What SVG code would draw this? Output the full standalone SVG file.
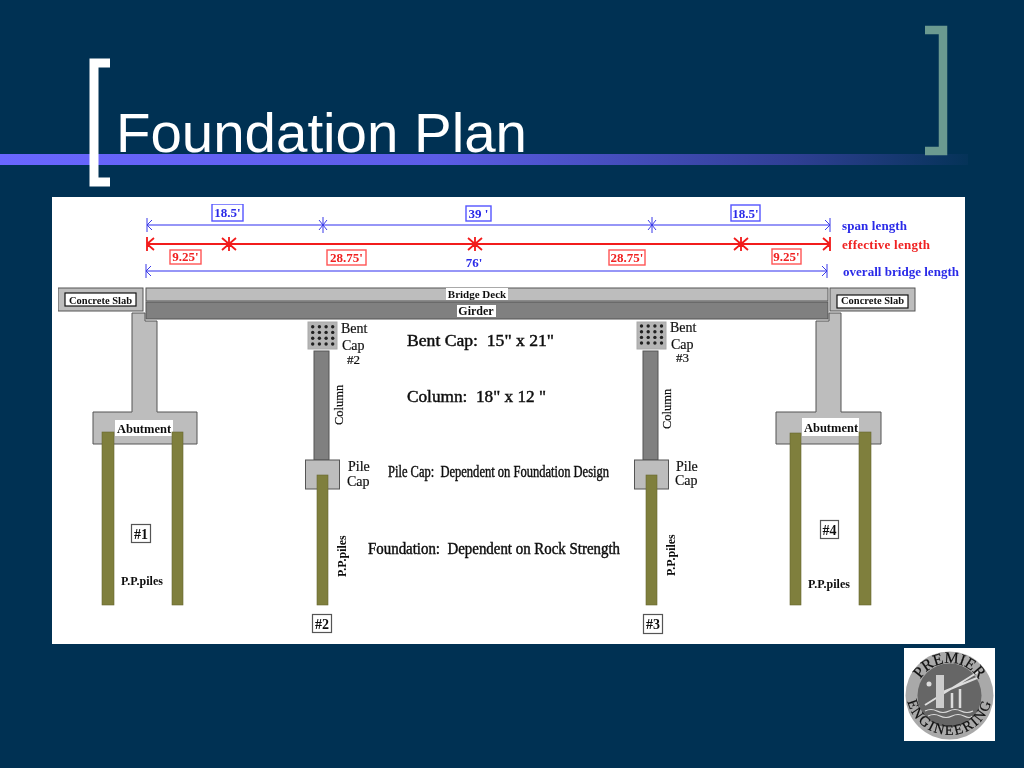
<svg xmlns="http://www.w3.org/2000/svg" width="1024" height="768" viewBox="0 0 1024 768">
<style>
text{font-family:"Liberation Serif","Times New Roman",serif;font-weight:bold;fill:#111}
.t{font-weight:normal;font-size:14px;stroke:#111;stroke-width:.2}
.b{fill:#2a2ae8;font-size:13px}
.r{fill:#f02020;font-size:13px}
.lb{fill:#fff;stroke:#5555ff;stroke-width:1.4}
.lr{fill:#fff;stroke:#f55;stroke-width:1.4}
.dimb{stroke:#7474f4;stroke-width:1.6;fill:none}
.tickb{stroke:#3a3ae8;stroke-width:1;fill:none}
.dimr{stroke:#f21a1a;stroke-width:1.8;fill:none}
.g{fill:#bdbdbd;stroke:#555;stroke-width:1}
.d{fill:#808080;stroke:#555;stroke-width:1}
.p{fill:#7f7f3c;stroke:#666633;stroke-width:.6}
.w{fill:#fff}
.bx{fill:#fff;stroke:#555;stroke-width:1.2}
.k{fill:#222}
.main{font-size:16px;font-weight:normal;fill:#0a0a0a;stroke:#0a0a0a;stroke-width:.4;white-space:pre}
.pp{font-size:12px}
.art{stroke:#ddd;fill:none}
.lg{font-weight:normal;fill:#111;stroke:#111;stroke-width:.2}
</style>
<defs>
<linearGradient id="band" x1="0" x2="1" y1="0" y2="0">
<stop offset="0" stop-color="#6a66ff"/><stop offset=".45" stop-color="#5c5ce6"/><stop offset=".82" stop-color="#2f3f94"/><stop offset="1" stop-color="#053358"/>
</linearGradient>
<filter id="soft" x="0" y="0" width="1" height="1"><feGaussianBlur stdDeviation=".3"/></filter>
<g id="dr"><circle cx="0" cy="0" r="1.7"/><circle cx="6.700" cy="0" r="1.700"/><circle cx="13.400" cy="0" r="1.700"/><circle cx="20" cy="0" r="1.700"/></g>
<path id="arcTop" d="M915.500 697A34 34 0 0 1 983.500 697"/>
<path id="arcBot" d="M906.500 692A43 43 0 1 0 992.500 692"/>
</defs>
<rect width="1024" height="768" fill="#003153"/>
<rect x="0" y="154" width="968" height="11" fill="url(#band)"/>
<path d="M925 30H943V151H925" fill="none" stroke="#6b9a90" stroke-width="8.500"/>
<path d="M110 63H94V182H110" fill="none" stroke="#fff" stroke-width="9"/>
<text x="116" y="152" textLength="411" lengthAdjust="spacingAndGlyphs" style="font-family:'Liberation Sans',Arial,sans-serif;font-weight:normal;font-size:56px;fill:#fff">Foundation Plan</text>
<rect x="52" y="197" width="913" height="447" fill="#fff"/>

<g id="panel" filter="url(#soft)">
<g id="connectors">
<path class="dimb" d="M147 225H830"/>
<path class="tickb" d="M147 218V232M147 225L152 220M147 225L152 230M323 217V233M319 220L327 230M327 220L319 230M652 217V233M648 220L656 230M656 220L648 230M830 218V232M830 225L825 220M830 225L825 230"/>
<path class="dimr" d="M147 244H830M147 237V251M147 244L154 238M147 244L154 250M229 237V251M222 238L236 250M236 238L222 250M475 237V251M468 238L482 250M482 238L468 250M741 237V251M734 238L748 250M748 238L734 250M830 237V251M830 244L823 238M830 244L823 250"/>
<path class="dimb" d="M146 271H827"/>
<path class="tickb" d="M146 264V278M146 271L151 266M146 271L151 276M827 264V278M827 271L822 266M827 271L822 276"/>
</g>

<g id="dim-labels">
<rect class="lb" x="212" y="204" width="31" height="17"/><text class="b" x="227.500" y="217" text-anchor="middle">18.5'</text>
<rect class="lb" x="466" y="206" width="25" height="15"/><text class="b" x="478.500" y="218" text-anchor="middle">39 '</text>
<rect class="lb" x="731" y="205" width="29" height="16"/><text class="b" x="745.500" y="218" text-anchor="middle">18.5'</text>
<rect class="lr" x="170" y="250" width="31" height="14"/><text class="r" x="185.500" y="261" text-anchor="middle">9.25'</text>
<rect class="lr" x="327" y="250" width="39" height="15"/><text class="r" x="346.500" y="262" text-anchor="middle">28.75'</text>
<rect class="lr" x="609" y="250" width="36" height="15"/><text class="r" x="627" y="262" text-anchor="middle">28.75'</text>
<rect class="lr" x="772" y="249" width="29" height="15"/><text class="r" x="786.500" y="261" text-anchor="middle">9.25'</text>
<text class="b" x="474" y="267" text-anchor="middle">76'</text>
<text class="b" x="842" y="230" textLength="65">span length</text>
<text class="r" x="842" y="249" textLength="88">effective length</text>
<text class="b" x="843" y="276" textLength="116">overall bridge length</text>
</g>

<g id="deck">
<rect class="g" x="146" y="288" width="682" height="13"/>
<rect class="w" x="446" y="288" width="62" height="12"/>
<text x="477" y="298" text-anchor="middle" style="font-size:11px">Bridge Deck</text>
<rect class="d" x="146" y="302" width="682" height="17"/>
<rect class="w" x="457" y="305" width="39" height="12"/>
<text x="476" y="315" text-anchor="middle" style="font-size:12px">Girder</text>
</g>

<g id="slab-left">
<rect class="g" x="58" y="288" width="85" height="23"/>
<rect class="bx" x="65" y="293" width="71" height="13" style="stroke:#111"/>
<text x="100.500" y="304" text-anchor="middle" style="font-size:10.500px">Concrete Slab</text>
</g>
<g id="slab-right">
<rect class="g" x="830" y="288" width="85" height="23"/>
<rect class="bx" x="837" y="295" width="71" height="13" style="stroke:#111"/>
<text x="872.500" y="304" text-anchor="middle" style="font-size:10.500px">Concrete Slab</text>
</g>

<g id="abutment-1">
<path class="g" d="M132 313H145V321H157V412H197V444H93V412H132Z"/>
<rect class="w" x="115" y="420" width="58" height="16"/>
<rect class="p" x="102" y="432" width="12" height="173"/>
<rect class="p" x="172" y="432" width="11" height="173"/>
<text x="144" y="433" text-anchor="middle" style="font-size:12.500px">Abutment</text>
<rect class="bx" x="131.500" y="524.500" width="19" height="18"/>
<text x="141" y="539" text-anchor="middle" style="font-size:14px">#1</text>
<text class="pp" x="142" y="585" text-anchor="middle">P.P.piles</text>
</g>

<g id="pier-2">
<rect x="308" y="322" width="29" height="27" fill="#b5b5b5" stroke="#aaa"/>
<g class="k"><use href="#dr" x="312.700" y="326.700"/><use href="#dr" x="312.700" y="332.400"/><use href="#dr" x="312.700" y="338.200"/><use href="#dr" x="312.700" y="344"/></g>
<rect class="d" x="314" y="351" width="15" height="109"/>
<rect class="g" x="305.500" y="460" width="34" height="29"/>
<rect class="p" x="317" y="475" width="11" height="130"/>
<text class="t" x="341" y="333">Bent</text><text class="t" x="342" y="350">Cap</text><text class="t" x="347" y="364" style="font-size:13px">#2</text>
<text class="t" transform="translate(343 425) rotate(-90)" style="font-size:12.500px">Column</text>
<text class="t" x="348" y="471">Pile</text><text class="t" x="347" y="486">Cap</text>
<text class="pp" transform="translate(346 577) rotate(-90)">P.P.piles</text>
<rect class="bx" x="312.500" y="614.500" width="19" height="18"/>
<text x="322" y="629" text-anchor="middle" style="font-size:14px">#2</text>
</g>

<g id="pier-3">
<rect x="637" y="322" width="29" height="27" fill="#b5b5b5" stroke="#aaa"/>
<g class="k"><use href="#dr" x="641.500" y="326"/><use href="#dr" x="641.500" y="331.700"/><use href="#dr" x="641.500" y="337.400"/><use href="#dr" x="641.500" y="343"/></g>
<rect class="d" x="643" y="351" width="15" height="109"/>
<rect class="g" x="634.500" y="460" width="34" height="29"/>
<rect class="p" x="646" y="475" width="11" height="130"/>
<text class="t" x="670" y="332">Bent</text><text class="t" x="671" y="349">Cap</text><text class="t" x="676" y="362" style="font-size:13px">#3</text>
<text class="t" transform="translate(671 429) rotate(-90)" style="font-size:12.500px">Column</text>
<text class="t" x="676" y="471">Pile</text><text class="t" x="675" y="485">Cap</text>
<text class="pp" transform="translate(675 576) rotate(-90)">P.P.piles</text>
<rect class="bx" x="643.500" y="614.500" width="19" height="19"/>
<text x="653" y="629" text-anchor="middle" style="font-size:14px">#3</text>
</g>

<g id="abutment-4">
<path class="g" d="M841 313H829V321H816V412H776V444H881V412H841Z"/>
<rect class="w" x="802" y="418" width="57" height="18"/>
<rect class="p" x="790" y="433" width="11" height="172"/>
<rect class="p" x="859" y="432" width="12" height="173"/>
<text x="831" y="432" text-anchor="middle" style="font-size:12.500px">Abutment</text>
<rect class="bx" x="820.500" y="520.500" width="18" height="18"/>
<text x="829.500" y="535" text-anchor="middle" style="font-size:14px">#4</text>
<text class="pp" x="829" y="588" text-anchor="middle">P.P.piles</text>
</g>

<g id="notes">
<text class="main" x="407" y="346" textLength="147" lengthAdjust="spacingAndGlyphs">Bent Cap:  15" x 21"</text>
<text class="main" x="407" y="402" textLength="139" lengthAdjust="spacingAndGlyphs">Column:  18" x 12 "</text>
<text class="main" x="388" y="477" textLength="221" lengthAdjust="spacingAndGlyphs">Pile Cap:  Dependent on Foundation Design</text>
<text class="main" x="368" y="554" textLength="252" lengthAdjust="spacingAndGlyphs">Foundation:  Dependent on Rock Strength</text>
</g>

<g id="logo">
<rect x="904" y="648" width="91" height="93" fill="#fff"/>
<circle cx="949.500" cy="695.500" r="44" fill="#a9a9a9"/>
<circle cx="949.500" cy="695.500" r="32" fill="#666"/>
<path class="art" stroke-width="2" d="M925 705L978 672M943 692L977 678"/>
<path d="M936 675H944V708H936Z" fill="#ccc"/>
<path class="art" stroke-width="2.500" d="M952 693V708M960 689V708"/>
<circle cx="929" cy="684" r="2.500" fill="#ddd"/>
<path class="art" stroke-width="1.200" d="M925 711Q931 708 937 711T949 711T961 711T973 711M928 716Q934 713 940 716T952 716T964 716T972 716"/>
<text class="lg" style="font-size:16px"><textPath href="#arcTop" startOffset="50%" text-anchor="middle">PREMIER</textPath></text>
<text class="lg" style="font-size:14.500px;letter-spacing:1.600px"><textPath href="#arcBot" startOffset="50%" text-anchor="middle">ENGINEERING</textPath></text>
</g>
</g>
</svg>
